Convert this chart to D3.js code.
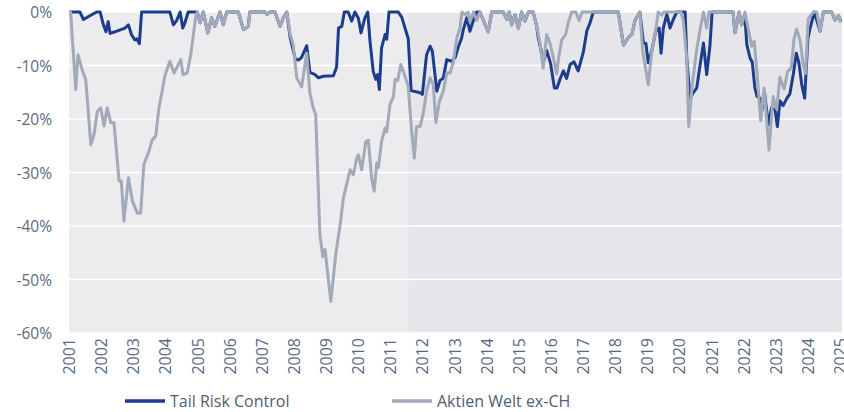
<!DOCTYPE html>
<html>
<head>
<meta charset="utf-8">
<script src="https://cdn.jsdelivr.net/npm/d3@7"></script>
<style>
  body { margin: 0; background: #fff; }
  svg { display: block; font-family: "Open Sans", "Noto Sans", sans-serif; }
</style>
</head>
<body>
<div id="chart"></div>
<script>
// drawdowns in %, time as decimal year

// Tail Risk Control
var trcYears = [2001.00,2001.34,2001.45,2001.65,2001.86,2001.97,2002.07,2002.15,2002.22,2002.28,2002.43,2002.74,2002.85,2002.95,2003.05,2003.11,2003.19,2003.26,
  2004.14,2004.25,2004.35,2004.46,2004.54,2004.61,2004.71,2004.99,
  2005.08,2005.18,2005.32,2005.44,2005.54,2005.70,2005.80,2005.91,2006.27,2006.43,2006.58,2006.63,2007.10,2007.16,2007.26,2007.41,2007.57,2007.67,2007.78,
  2007.88,2008.04,2008.14,2008.24,2008.40,2008.50,2008.66,2008.76,2008.92,2009.23,2009.33,2009.39,2009.49,2009.57,2009.69,2009.80,2009.90,
  2010.01,2010.09,2010.21,2010.30,2010.37,2010.47,2010.55,2010.61,2010.66,2010.73,2010.84,2010.89,2010.96,2011.25,2011.36,2011.56,2011.65,2011.93,
  2012.00,2012.13,2012.24,2012.31,2012.45,2012.55,2012.65,2012.76,2012.91,2013.02,2013.12,2013.22,2013.27,2013.38,2013.48,2013.59,2013.69,2013.79,
  2014.05,2014.16,2014.52,2014.63,2014.70,2014.78,2014.88,2014.99,2015.09,2015.19,2015.30,2015.45,2015.56,2015.61,2015.69,2015.76,2015.87,2015.99,
  2016.11,2016.19,2016.30,2016.39,2016.49,2016.60,2016.72,2016.85,2017.01,2017.12,2017.22,2017.32,
  2018.10,2018.26,2018.41,2018.52,2018.62,2018.77,2018.88,2018.96,2019.03,2019.14,2019.26,2019.37,2019.43,2019.50,2019.61,2019.71,2019.81,2019.92,
  2020.18,2020.23,2020.33,2020.43,2020.54,2020.64,2020.75,2020.85,2020.95,2021.02,2021.67,2021.73,2021.86,2021.94,
  2022.04,2022.10,2022.20,2022.27,2022.35,2022.42,2022.51,2022.56,2022.65,2022.77,2022.87,2022.98,2023.05,2023.13,2023.23,2023.34,2023.44,2023.55,2023.64,2023.72,2023.81,2023.90,
  2024.00,2024.07,2024.20,2024.38,2024.48,2024.74,2024.84,2024.95,2025.03];
var trcValues = [0,0,-1.4,-0.7,0,0,-2.4,-3.7,-1.8,-4,-3.7,-3,-2.4,-4.3,-5.2,-5,-5.9,0,
  0,-2.4,-1.6,0,-3,-2,0,0,
  -2,0,-3.9,-1.1,-2.7,0,-2.4,0,0,-3.3,-2.7,0,0,-0.4,0,0,-2.7,-1.1,0,
  -4.6,-8.7,-9,-8.5,-6.3,-11.3,-11.7,-12.3,-12,-11.9,-10.3,-3,-2.7,0,0,-1.7,0,
  -1.2,-3.9,-1.1,0,-5.5,-11.1,-12.6,-11.7,-14.5,-6.7,-4.2,-5.1,0,0,-1,-5,-14.7,-15.1,
  -15.4,-8,-6.4,-7.3,-14.8,-12.8,-12.4,-8.9,-9.2,-8.5,-6.5,-4.9,-3.4,-1.1,-3.6,-1.5,0,0,
  -3.7,0,0,-1.4,0,-2.4,-0.5,-3,0,-1.7,0,0,-2.7,-4.9,-7,-9.5,-7.2,-9.6,
  -14.2,-14.2,-12.3,-11,-12.4,-9.8,-9.3,-11,-7.5,-3.5,-2,0,
  0,-6.2,-4.8,-4.2,-1.6,0,-5.8,-5.9,-9.5,-7.3,-3.7,-3,-7.7,-3,-0.4,-3,-1.4,0,
  0,-8.6,-16.1,-15.1,-14.2,-10.1,-5.8,-11.7,-6.4,0,0,-3.9,0,-2.4,
  -1,-6.1,-8.6,-9.4,-14.2,-15.8,-16.1,-18.6,-15,-21.1,-17.9,-18.3,-21.4,-16.6,-17.5,-16.2,-15.3,-11.5,-7.7,-9.5,-13.6,-16.1,
  -5,-3,0,-3.6,0,0,-1.5,-0.7,-1.8];

// Aktien Welt ex-CH
var awYears = [2001.00,2001.05,2001.21,2001.28,2001.41,2001.52,2001.68,2001.78,2001.88,2001.99,2002.09,2002.19,2002.30,2002.40,2002.56,2002.63,2002.71,2002.85,2002.97,
  2003.13,2003.23,2003.33,2003.49,2003.59,2003.70,2003.80,2003.90,2003.98,2004.14,2004.27,2004.48,2004.55,2004.68,2004.79,2004.94,2004.99,
  2005.08,2005.18,2005.32,2005.44,2005.54,2005.70,2005.80,2005.91,2006.27,2006.43,2006.58,2006.63,2007.10,2007.16,2007.26,2007.41,2007.57,2007.67,2007.78,2007.88,2007.98,
  2008.09,2008.24,2008.40,2008.50,2008.60,2008.68,2008.81,2008.90,2008.97,2009.15,2009.31,2009.44,2009.54,2009.75,2009.85,2009.96,
  2010.01,2010.11,2010.24,2010.32,2010.42,2010.50,2010.58,2010.63,2010.73,2010.84,2010.89,2010.99,2011.10,2011.15,2011.23,2011.33,2011.46,2011.56,2011.65,2011.75,2011.82,2011.93,
  2012.03,2012.13,2012.24,2012.34,2012.42,2012.53,2012.65,2012.76,2012.86,2012.96,2013.07,2013.17,2013.23,2013.33,2013.42,2013.48,2013.59,2013.69,2013.79,
  2014.05,2014.16,2014.52,2014.63,2014.70,2014.78,2014.88,2014.99,2015.09,2015.19,2015.30,2015.45,2015.56,2015.66,2015.76,2015.87,2015.97,
  2016.08,2016.18,2016.24,2016.34,2016.46,2016.54,2016.65,2016.78,2016.88,2016.97,
  2018.10,2018.26,2018.41,2018.52,2018.62,2018.77,2018.86,2019.03,2019.14,2019.26,2019.34,2019.45,2019.52,
  2020.05,2020.12,2020.23,2020.29,2020.40,2020.54,2020.64,2020.75,2020.85,2020.92,2021.67,2021.73,2021.86,2021.94,
  2022.04,2022.15,2022.25,2022.33,2022.41,2022.53,2022.64,2022.79,2022.92,2023.03,2023.13,2023.26,2023.37,2023.48,2023.57,2023.65,2023.76,2023.86,2023.93,
  2024.01,2024.17,2024.28,2024.38,2024.48,2024.74,2024.84,2024.95,2025.03];
var awValues = [0,0,-14.5,-8,-10.8,-12.6,-24.8,-22.9,-18.6,-17.9,-21.3,-17.9,-20.7,-20.7,-31.6,-31.6,-39.1,-31,-35.3,
  -37.6,-37.6,-28.5,-26,-23.9,-23.2,-17.9,-14.8,-12,-9.2,-11.4,-8.9,-11.7,-11.4,-8,-1.1,0,
  -2,0,-3.9,-1.1,-2.7,0,-2.4,0,0,-3.3,-2.7,0,0,-0.4,0,0,-2.7,-1.1,0,-4,-6.2,
  -12.3,-14,-7.7,-15.2,-17.9,-19.2,-41.6,-45.7,-44.4,-54.1,-45,-39.8,-34.8,-29.5,-30.4,-27.3,
  -26.7,-29.5,-24.2,-24,-31,-33.5,-28.2,-29.1,-24.2,-21.7,-22.4,-17.3,-15.8,-12.6,-12.8,-9.8,-12,-13.9,-21.1,-27.3,-21.4,-21.4,
  -18.9,-14.8,-12.3,-13.6,-20.7,-16.7,-14.8,-11.4,-11.4,-9.5,-4.9,-3,0,-0.5,0,-1.8,0,-1.6,0,
  -3.7,0,0,-1.4,0,-2.4,-0.5,-3,0,-1.7,0,0,-2.7,-5.8,-10.5,-4.2,-5.8,
  -8.6,-11.6,-8.6,-5.2,-4.2,-2,0,0,-1.6,0,
  0,-6.2,-4.8,-4.2,-1.6,0,-7.4,-13.6,-7.5,-3.6,0,-0.6,0,
  0,-1.5,-8.6,-21.4,-13.6,-7,-3.5,0,-3,0,0,-3.9,0,-2.4,
  0,-3.3,-6.4,-5.5,-10.8,-20.3,-14.2,-25.8,-15.8,-18.2,-12.2,-14.4,-11.1,-10.5,-5,-3.2,-5.4,-10.1,-11.5,
  -1.3,0,0,-3.6,0,0,-1.5,-0.7,-2];

var seriesNames = ["Tail Risk Control", "Aktien Welt ex-CH"];
var seriesColors = ["#1b3d8b", "#a2a9b8"];
var yearTicks = d3.range(2001, 2026);
var pctTicks = [0, -10, -20, -30, -40, -50, -60];
var shadeSplit = 2011.56; // start of the darker period

var larghezza = 844, altezza = 412;
var margin = {top: 12, right: 4, bottom: 79, left: 69};

var svg = d3.select("#chart").append("svg")
  .attr("width", larghezza)
  .attr("height", altezza);

var x = d3.scaleLinear()
  .domain([2001, 2025])
  .range([margin.left, 840]);

var y = d3.scaleLinear()
  .domain([-60, 0])
  .range([altezza - margin.bottom, margin.top]);

// sfondo, due periodi
svg.append("rect")
  .attr("x", x(2001)).attr("y", y(0))
  .attr("width", x(shadeSplit) - x(2001)).attr("height", y(-60) - y(0))
  .attr("fill", "#ececef");
svg.append("rect")
  .attr("x", x(shadeSplit)).attr("y", y(0))
  .attr("width", 842 - x(shadeSplit)).attr("height", y(-60) - y(0))
  .attr("fill", "#e5e5ea");

// griglia
svg.selectAll("line.grid")
  .data(pctTicks)
  .enter().append("line")
  .attr("class", "grid")
  .attr("x1", x(2001)).attr("x2", 842)
  .attr("y1", function(d) { return y(d); })
  .attr("y2", function(d) { return y(d); })
  .attr("stroke", "#ffffff")
  .attr("stroke-width", 1.5);

// assi
var yAxis = svg.append("g")
  .attr("transform", "translate(" + (margin.left - 17) + ",0)")
  .call(d3.axisLeft(y).tickValues(pctTicks).tickSize(0).tickFormat(function(d) { return d + "%"; }));
yAxis.select(".domain").remove();
yAxis.selectAll("text")
  .attr("x", 0)
  .attr("dy", "0.36em")
  .style("font-family", "'Open Sans', sans-serif")
  .style("font-size", "15.5px")
  .attr("fill", "#5b6a82");

var xAxis = svg.append("g")
  .attr("transform", "translate(0," + (y(-60) + 5) + ")")
  .call(d3.axisBottom(x).tickValues(yearTicks).tickSize(0).tickFormat(d3.format("d")));
xAxis.select(".domain").remove();
xAxis.selectAll("text")
  .attr("transform", "rotate(-90)")
  .attr("x", 0).attr("y", 0)
  .attr("dy", "0.35em")
  .style("text-anchor", "end")
  .style("font-family", "'Open Sans', sans-serif")
  .style("font-size", "16px")
  .attr("fill", "#5b6a82");

// linee: prima il blu, poi il grigio sopra
var lineGen = d3.line()
  .x(function(d) { return x(d[0]); })
  .y(function(d) { return y(d[1]); });

var serie = [
  d3.zip(trcYears, trcValues),
  d3.zip(awYears, awValues)
];

svg.selectAll("path.serie")
  .data(serie)
  .enter().append("path")
  .attr("class", "serie")
  .attr("d", lineGen)
  .attr("fill", "none")
  .attr("stroke", function(d, i) { return seriesColors[i]; })
  .attr("stroke-width", 3)
  .attr("stroke-linejoin", "round");

// legenda
var legendX = [125, 392];
var legend = svg.selectAll("g.legend")
  .data(seriesNames)
  .enter().append("g")
  .attr("class", "legend")
  .attr("transform", function(d, i) { return "translate(" + legendX[i] + ",401)"; });
legend.append("line")
  .attr("x1", 0).attr("x2", 40)
  .attr("stroke", function(d, i) { return seriesColors[i]; })
  .attr("stroke-width", 3.5);
legend.append("text")
  .attr("x", 45).attr("dy", "0.35em")
  .style("font-size", "16px")
  .attr("fill", "#4f5d75")
  .text(function(d) { return d; });
</script>
</body>
</html>
